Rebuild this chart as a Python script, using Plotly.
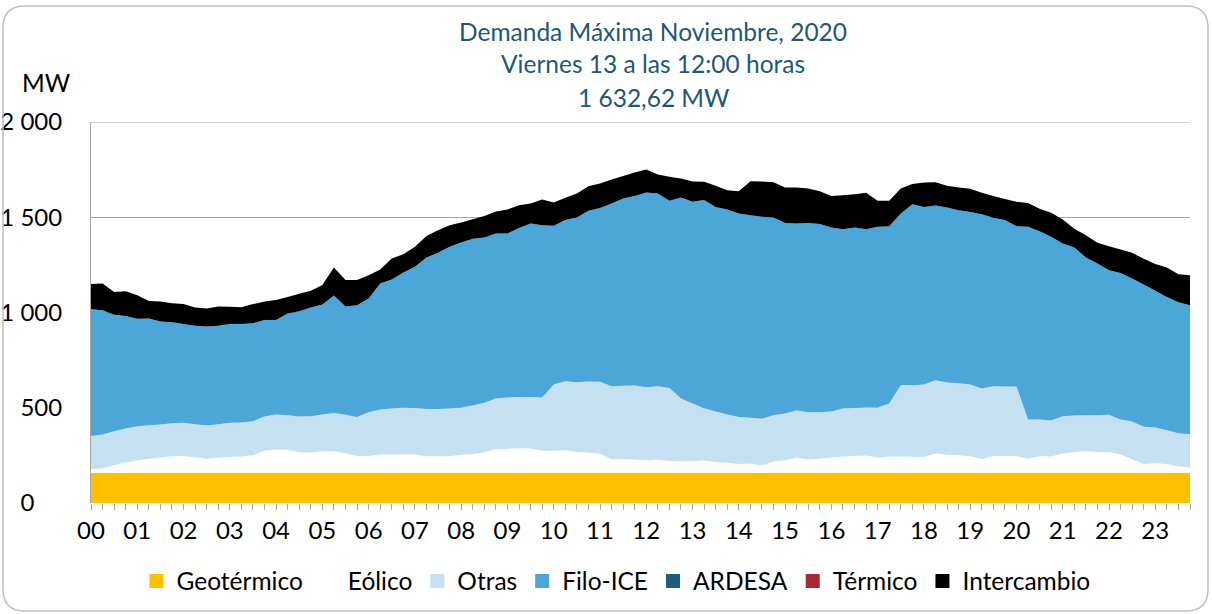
import plotly.graph_objects as go

# ---- data (15-minute intervals) ----
times = [f"{h:02d}:{m:02d}" for h in range(24) for m in (0, 15, 30, 45)]
hour_labels = ["00", "01", "02", "03", "04", "05", "06", "07", "08", "09", "10", "11",
               "12", "13", "14", "15", "16", "17", "18", "19", "20", "21", "22", "23"]
y_ticks = [0, 500, 1000, 1500, 2000]
y_ticktext = ["0\u2007\u2007", "500", "1 000", "1 500", "2 000"]

geotermico = [159, 159, 159, 159, 159, 159, 159, 159, 159, 159, 159, 159,
              159, 159, 159, 159, 159, 159, 159, 159, 159, 159, 159, 159,
              159, 159, 159, 159, 159, 159, 159, 159, 159, 159, 159, 159,
              159, 159, 159, 159, 159, 159, 159, 159, 159, 159, 159, 159,
              159, 159, 159, 159, 159, 159, 159, 159, 159, 159, 159, 159,
              159, 159, 159, 159, 159, 159, 159, 159, 159, 159, 159, 159,
              159, 159, 159, 159, 159, 159, 159, 159, 159, 159, 159, 159,
              159, 159, 159, 159, 159, 159, 159, 159, 159, 159, 159, 159]
eolico = [18, 22, 41, 54, 66, 73, 80, 87, 88, 81, 73, 78, 83, 85, 92, 115, 122, 120, 108, 106, 111, 113, 101, 88,
          88, 96, 96, 97, 96, 87, 87, 87, 94, 97, 108, 125, 125, 129, 127, 115, 115, 118, 108, 106, 99, 71, 71, 70,
          66, 69, 62, 60, 60, 64, 55, 52, 46, 48, 38, 59, 64, 80, 69, 73, 80, 85, 88, 90, 78, 85, 85, 84,
          83, 101, 94, 92, 87, 71, 88, 88, 88, 73, 88, 85, 101, 109, 113, 108, 109, 96, 71, 46, 50, 46, 34, 29]
otras = [175, 178, 177, 178, 178, 176, 173, 173, 174, 174, 175, 177, 179, 178, 178, 180, 183, 182, 187, 191, 194, 201, 203, 205,
         230, 236, 241, 245, 244, 248, 248, 250, 248, 256, 259, 264, 270, 269, 271, 280, 348, 362, 367, 373, 378, 383, 385, 388,
         383, 385, 383, 329, 303, 275, 266, 253, 247, 240, 245, 243, 247, 247, 249, 245, 241, 252, 252, 254, 264, 278, 374, 375,
         380, 385, 380, 378, 376, 371, 366, 364, 364, 206, 191, 189, 196, 191, 189, 194, 195, 183, 198, 195, 187, 177, 173, 173]
filo_ice = [665, 653, 611, 590, 564, 560, 541, 530, 519, 516, 519, 516, 518, 518, 515, 506, 496, 534, 553, 570, 578, 616, 568, 586,
            597, 661, 677, 709, 741, 795, 819, 849, 866, 875, 868, 867, 861, 887, 910, 904, 833, 846, 865, 896, 912, 959, 983, 995,
            1022, 1012, 982, 1056, 1059, 1092, 1074, 1077, 1068, 1064, 1060, 1038, 1000, 981, 993, 987, 966, 941, 947, 934, 949, 931, 902, 950,
            932, 917, 918, 908, 906, 915, 884, 874, 842, 1012, 989, 964, 906, 882, 828, 796, 759, 770, 751, 747, 718, 700, 688, 677]
ardesa = [0, 0, 0, 0, 0, 0, 0, 0, 0, 0, 0, 0, 0, 0, 0, 0, 0, 0, 0, 0, 0, 0, 0, 0,
          0, 0, 0, 0, 0, 0, 0, 0, 0, 0, 0, 0, 0, 0, 0, 0, 0, 0, 0, 0, 0, 0, 0, 0,
          0, 0, 0, 0, 0, 0, 0, 0, 0, 0, 0, 0, 0, 0, 0, 0, 0, 0, 0, 0, 0, 0, 0, 0,
          0, 0, 0, 0, 0, 0, 0, 0, 0, 0, 0, 0, 0, 0, 0, 0, 0, 0, 0, 0, 0, 0, 0, 0]
termico = [0, 0, 0, 0, 0, 0, 0, 0, 0, 0, 0, 0, 0, 0, 0, 0, 0, 0, 0, 0, 0, 0, 0, 0,
           0, 0, 0, 0, 0, 0, 0, 0, 0, 0, 0, 0, 0, 0, 0, 0, 0, 0, 0, 0, 0, 0, 0, 0,
           0, 0, 0, 0, 0, 0, 0, 0, 0, 0, 0, 0, 0, 0, 0, 0, 0, 0, 0, 0, 0, 0, 0, 0,
           0, 0, 0, 0, 0, 0, 0, 0, 0, 0, 0, 0, 0, 0, 0, 0, 0, 0, 0, 0, 0, 0, 0, 0]
intercambio = [132, 140, 119, 131, 124, 93, 105, 100, 104, 96, 95, 101, 91, 88, 100, 98, 106, 87, 91, 88, 103, 147, 139, 132,
               121, 74, 110, 96, 105, 112, 119, 113, 105, 103, 113, 115, 126, 119, 105, 135, 122, 117, 126, 129, 129, 126, 118, 123,
               121, 99, 126, 99, 107, 96, 111, 101, 117, 178, 186, 185, 186, 189, 181, 173, 166, 179, 175, 191, 136, 133, 131, 107,
               128, 122, 114, 119, 121, 112, 114, 111, 128, 125, 117, 126, 126, 98, 117, 109, 126, 123, 134, 135, 140, 154, 147, 158]

series_names = ["Geotérmico", "Eólico", "Otras", "Filo-ICE", "ARDESA", "Térmico", "Intercambio"]
series_values = [geotermico, eolico, otras, filo_ice, ardesa, termico, intercambio]
series_colors = ["#FFC000", "#FFFFFF", "#C5E1F1", "#4DA6D8", "#1F5C80", "#A52A36", "#000000"]

FONT = "Lato"
FS = 24.5
TFS = 24
GRID = "#A6A6A6"
x_pos = list(range(len(times)))
hour_pos = [times.index(h + ":00") for h in hour_labels]

fig = go.Figure()
for name, vals, col in zip(series_names, series_values, series_colors):
    fig.add_trace(go.Scatter(x=x_pos, y=vals, name=name, stackgroup="one", mode="none",
                             fillcolor=col, line=dict(width=0), showlegend=False,
                             hoverinfo="skip"))
for name, col in zip(series_names, series_colors):
    fig.add_trace(go.Scatter(x=[None], y=[None], name=name, mode="markers",
                             marker=dict(symbol="square", size=14, color=col,
                                         line=dict(width=0)),
                             showlegend=True))

# plot area in px: x 91..1190, y 122..503
def px_x(px):
    return (px - 91) / 1099.0

def px_y(py):
    return (503 - py) / 381.0

title_color = "#1F5873"
annotations = [
    dict(text="Demanda Máxima Noviembre, 2020", x=px_x(653), y=px_y(32)),
    dict(text="Viernes 13 a las 12:00 horas", x=px_x(653), y=px_y(64)),
    dict(text="1 632,62 MW", x=px_x(653), y=px_y(97)),
]
for a in annotations:
    a.update(xref="paper", yref="paper", showarrow=False, xanchor="center", yanchor="middle",
             font=dict(family=FONT, size=FS, color=title_color))
annotations.append(dict(text="MW", x=px_x(46), y=px_y(83), xref="paper", yref="paper",
                        showarrow=False, xanchor="center", yanchor="middle",
                        font=dict(family=FONT, size=FS, color="#000000")))

# rounded outer frame
L, R, T, B = px_x(3), px_x(1208), px_y(6), px_y(611)
rx, ry = 22 / 1099.0, 22 / 381.0
frame_path = (f"M {L+rx},{T} L {R-rx},{T} Q {R},{T} {R},{T-ry} L {R},{B+ry} Q {R},{B} {R-rx},{B} "
              f"L {L+rx},{B} Q {L},{B} {L},{B+ry} L {L},{T-ry} Q {L},{T} {L+rx},{T} Z")

fig.update_layout(
    width=1212, height=614,
    margin=dict(l=91, r=22, t=122, b=111, autoexpand=False),
    paper_bgcolor="white", plot_bgcolor="white",
    font=dict(family=FONT, size=FS, color="#000000"),
    showlegend=True,
    legend=dict(orientation="h", x=px_x(616), xanchor="center", y=px_y(581), yanchor="middle",
                font=dict(family=FONT, size=FS, color="#000000"), itemwidth=30,
                traceorder="normal",
                bgcolor="rgba(0,0,0,0)", tracegroupgap=0),
    xaxis=dict(range=[0, len(times) - 1], tickmode="array", tickvals=hour_pos, ticktext=hour_labels,
               ticks="outside", ticklen=6, tickcolor=GRID, tickwidth=1,
               minor=dict(ticks="outside", tickmode="linear", tick0=0, dtick=1, ticklen=6,
                          tickcolor=GRID, tickwidth=1, showgrid=False),
               showgrid=False, zeroline=False, showline=False, automargin=False,
               tickfont=dict(family=FONT, size=TFS, color="#000000")),
    yaxis=dict(range=[0, 2000], tickmode="array", tickvals=y_ticks, ticktext=y_ticktext,
               showgrid=True, gridcolor=GRID, gridwidth=1,
               showline=True, linecolor=GRID, linewidth=1,
               ticks="", zeroline=False, ticklabelstandoff=23, automargin=False,
               tickfont=dict(family=FONT, size=TFS, color="#000000")),
    annotations=annotations,
    shapes=[
        dict(type="line", xref="paper", yref="y", x0=0, x1=1, y0=y_ticks[-1], y1=y_ticks[-1],
             line=dict(color=GRID, width=1), layer="below"),
        dict(type="path", path=frame_path, xref="paper", yref="paper",
             line=dict(color="#BFBFBF", width=1.5), fillcolor="rgba(0,0,0,0)", layer="above"),
    ],
)

fig.write_html("out.html", config={"displayModeBar": False},
               post_script="document.body.style.margin='0';document.body.style.padding='0';")
